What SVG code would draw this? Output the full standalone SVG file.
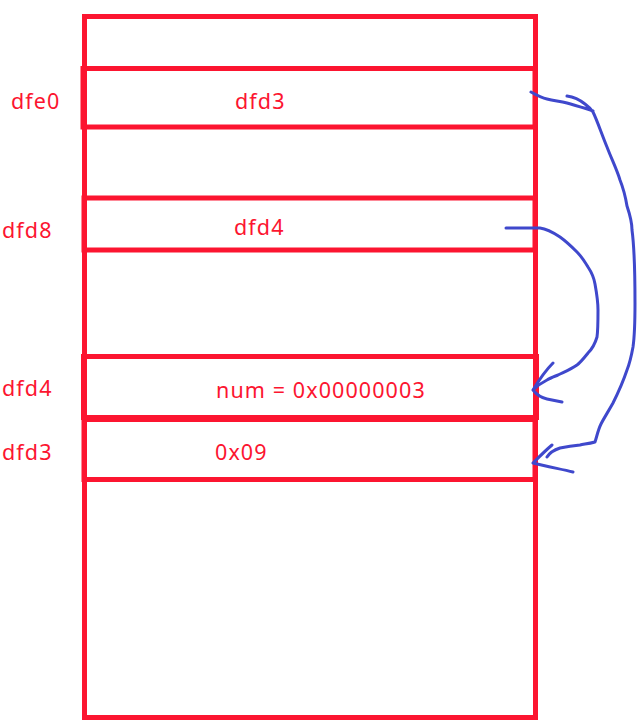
<svg xmlns="http://www.w3.org/2000/svg" width="643" height="725" viewBox="0 0 643 725">
<style>
.box{fill:none;stroke:#fc1530;stroke-width:5}
.lbl{fill:#fc1530;font-family:"Noto Sans","Open Sans",sans-serif;font-size:21.5px;letter-spacing:1.1px}
.ink{fill:none;stroke:#3f48cc;stroke-width:3;stroke-linecap:round;stroke-linejoin:round}
</style>
<rect width="643" height="725" fill="#ffffff"/>
<g id="frame"><rect class="box" x="84.5" y="16.5" width="451" height="701"/></g>
<g id="cell-dfe0">
<rect class="box" x="83" y="68.5" width="452" height="58.5"/>
<text class="lbl" x="11" y="109">dfe0</text>
<text class="lbl" x="235" y="109">dfd3</text>
</g>
<g id="cell-dfd8">
<rect class="box" x="84" y="198" width="451" height="52"/>
<text class="lbl" x="2" y="238">dfd8</text>
<text class="lbl" x="234" y="235">dfd4</text>
</g>
<g id="cell-dfd4">
<rect class="box" x="83.5" y="356.5" width="453" height="61"/>
<text class="lbl" x="2" y="396">dfd4</text>
<text class="lbl" x="216" y="398">num = 0x00000003</text>
</g>
<g id="cell-dfd3">
<rect class="box" x="84" y="419.5" width="451" height="60"/>
<text class="lbl" x="2" y="460">dfd3</text>
<text class="lbl" x="215" y="460">0x09</text>
</g>
<g id="connectors">
<path class="ink" d="M531,92 C538,96 542,98 547,99 C555,101 560,101 567,103 C577,106 585,108 593,111 M567,96 C574,97 580,100 585,104 C589,107 591,109 593,112 M593,112 C597,120 602,135 607,147 C612,160 617,170 620,180 C624,190 626,200 627,206 C630,215 632,223 632,230 C634,245 635,270 635,303 C635,325 634,340 633,347 C631,358 629,365 627,370 C622,385 617,395 613,403 C608,412 604,418 601,424 C598,430 597,436 595,442 C588,444 584,444 580,445 C570,446 565,447 560,448 C554,450 550,452 547,457 M552,445 C546,450 540,456 533,463 M533,463 C545,466 560,469 573,472"/>
<path class="ink" d="M506,228 C518,228 530,228 540,228 C548,229 554,233 560,237 C567,242 572,247 577,252 C582,257 585,262 588,267 C592,273 594,278 595,284 C597,295 598,303 598,310 C598,320 598,330 597,337 C595,344 592,349 588,353 C584,358 581,362 577,365 C570,370 564,372 558,375 C553,377 550,378 547,380 C541,383 537,386 533,390 M553,363 C546,370 539,380 533,390 C537,395 542,398 547,399 C552,400 557,401 562,402"/>
</g>
</svg>
